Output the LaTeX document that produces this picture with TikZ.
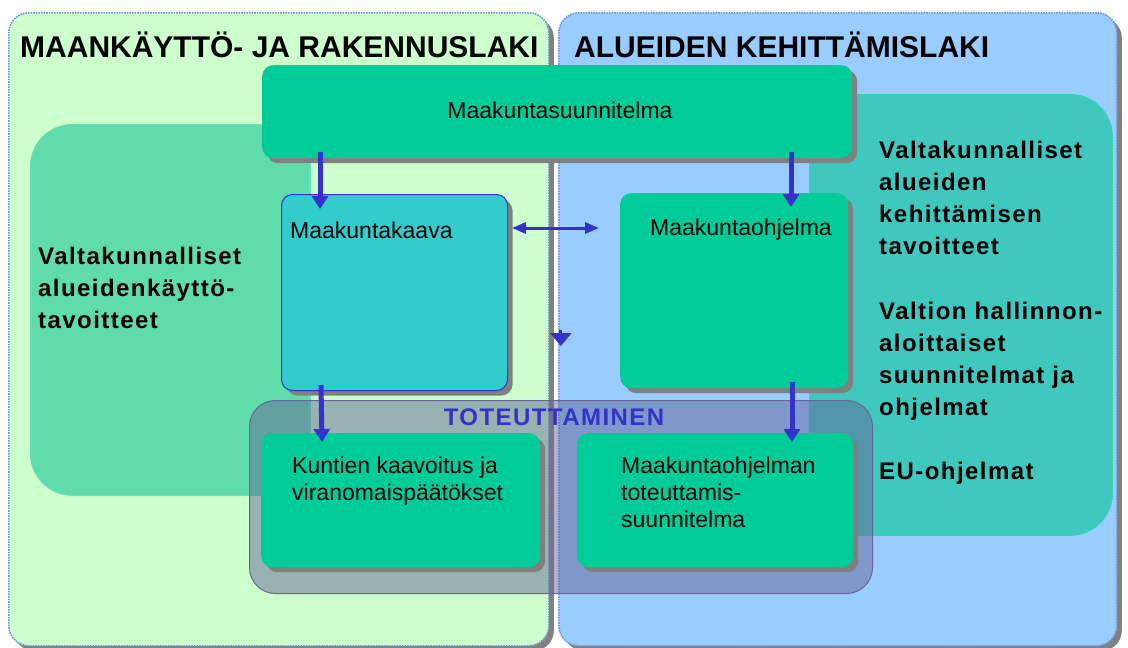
\documentclass[tikz,border=0pt]{standalone}
\usepackage{fontspec}
\setmainfont{Liberation Sans}
\newfontfamily\sidefont{Liberation Sans}[LetterSpace=6]
\usetikzlibrary{arrows.meta,shadows,calc}
\definecolor{lgreen}{HTML}{CCFFCC}
\definecolor{lblue}{HTML}{99CCFF}
\definecolor{boxgreen}{HTML}{00CC99}
\definecolor{kaavacol}{HTML}{33CCCC}
\definecolor{arrblue}{HTML}{3333CC}
\definecolor{dotblue}{HTML}{6F97D6}
\definecolor{patl}{HTML}{5FDCAA}
\definecolor{patr}{HTML}{3FC8BE}
\definecolor{totcol}{HTML}{666699}
\begin{document}
\begin{tikzpicture}[x=1pt,y=-1pt,
  shad/.style={drop shadow={shadow xshift=5pt, shadow yshift=-5pt, fill=black!50, opacity=1}},
  panel/.style={rectangle, rounded corners=20pt, draw=dotblue, densely dotted, line width=1.6pt, inner sep=0pt, anchor=north west, shad},
  patpanel/.style={rectangle, rounded corners=42pt, inner sep=0pt, anchor=north west, line width=0.8pt},
  box/.style={rectangle, rounded corners=11pt, fill=boxgreen, inner sep=0pt, anchor=north west, shad},
  totpanel/.style={rectangle, rounded corners=26pt, fill=totcol, fill opacity=0.5, draw=totcol, line width=1pt, inner sep=0pt, anchor=north west},
  title/.style={font=\fontsize{30}{34}\selectfont\bfseries, anchor=west, inner sep=0pt},
  body/.style={font=\fontsize{23}{27}\selectfont, align=left, inner sep=0pt},
  side/.style={font=\sidefont\fontsize{24}{32}\selectfont\bfseries, align=left, inner sep=0pt, anchor=west},
  arr/.style={draw=arrblue, line width=5pt, -{Triangle[width=16pt,length=13pt]}},
  darr/.style={draw=arrblue, line width=3pt, {Triangle[width=11pt,length=14pt]}-{Triangle[width=11pt,length=14pt]}}
]
\fill[white] (0,0) rectangle (1128,648);
\useasboundingbox (0,0) rectangle (1128,648);

% main panels
\node[panel, fill=lgreen, minimum width=540pt, minimum height=633pt] (mrl) at (8,12) {};
\node[panel, fill=lblue, minimum width=558pt, minimum height=633pt] (akl) at (558,12) {};
\node[title] (t1) at (20,45) {MAANKÄYTTÖ- JA RAKENNUSLAKI};
\node[title] (t2) at (574,45) {ALUEIDEN KEHITTÄMISLAKI};

% pattern panels
\node[patpanel, fill=patl, draw=boxgreen!60, minimum width=280pt, minimum height=371pt] (vat) at (30,124) {};
\node[patpanel, fill=patr, draw=boxgreen!80, minimum width=303pt, minimum height=441pt] (vakt) at (809,94) {};

% boxes
\node[box, minimum width=590pt, minimum height=93pt] (plan) at (262,65) {};
\node[body, anchor=center] (plant) at (560,110) {Maakuntasuunnitelma};
\node[box, fill=kaavacol, draw=arrblue, line width=1pt, minimum width=226pt, minimum height=196pt] (kaava) at (281,194) {};
\node[body, anchor=west] (kaavat) at (290,230) {Maakuntakaava};
\node[box, minimum width=228pt, minimum height=195pt] (ohj) at (620,193) {};
\node[body, anchor=west] (ohjt) at (650,230) {Maakuntaohjelma};

% side texts
\node[side] (vl) at (38,288) {Valtakunnalliset\\alueidenkäyttö-\\tavoitteet};
\node[side] (vr1) at (879,198) {Valtakunnalliset\\alueiden\\kehittämisen\\tavoitteet};
\node[side] (vr2) at (879,361) {Valtion hallinnon-\\aloittaiset\\suunnitelmat ja\\ohjelmat};
\node[side] (vr3) at (879,473) {EU-ohjelmat};

% toteuttaminen
\node[totpanel, minimum width=623pt, minimum height=193pt] (tot) at (249,400) {};
\node[font=\sidefont\fontsize{24}{28}\selectfont\bfseries, text=arrblue, inner sep=0pt] (tott) at (554,417) {TOTEUTTAMINEN};
\node[box, minimum width=279pt, minimum height=134pt] (kunt) at (261,433) {};
\node[body, anchor=north west] (kuntt) at (292,457) {Kuntien kaavoitus ja\\viranomaispäätökset};
\node[box, minimum width=276pt, minimum height=134pt] (mtot) at (577,433) {};
\node[body, anchor=north west] (mtott) at (621,457) {Maakuntaohjelman\\toteuttamis-\\suunnitelma};

% arrows
\draw[arr] ($(kaava.north west)+(39,-42)$) -- ($(kaava.north west)+(39,15)$);
\draw[arr] ($(ohj.north west)+(171,-41)$) -- ($(ohj.north west)+(171,14)$);
\draw[darr] ($(kaava.north east)+(4,34)$) -- ($(ohj.north west)+(-21,35)$);
\coordinate (s1) at ($(mrl.north east)!0.5!(akl.north west)+(7,318)$);
\coordinate (s2) at ($(s1)+(0,16)$);
\draw[arr, line width=3pt, -{Triangle[width=21pt,length=13pt]}] (s1) -- (s2);
\draw[arr] ($(kaava.south west)+(40,-6)$) -- ($(kunt.north west)+(61,9)$);
\draw[arr] ($(ohj.south west)+(172,-6)$) -- ($(mtot.north west)+(215,9)$);
\end{tikzpicture}
\end{document}
